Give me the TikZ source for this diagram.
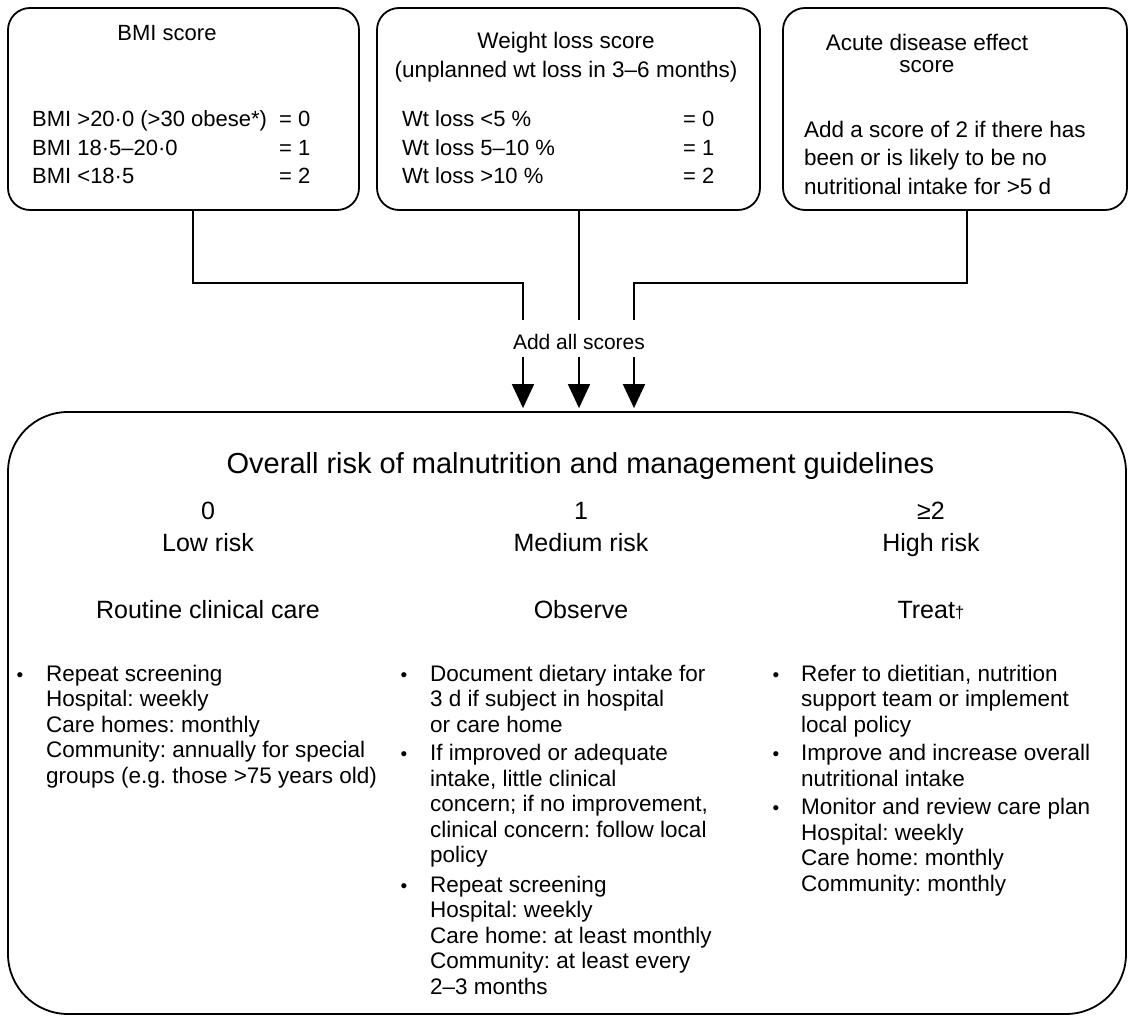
\documentclass[tikz,border=0pt]{standalone}
\usepackage{fontspec}
\setmainfont{Liberation Sans}
\usetikzlibrary{arrows.meta}
\newcommand{\myst}{\rule{0pt}{20pt}}
\begin{document}
\frenchspacing
\begin{tikzpicture}[x=1pt,y=-1pt,
  box/.style={draw, line width=1.8pt, rounded corners=22pt, inner sep=0pt},
  conn/.style={draw, line width=1.8pt},
  arr/.style={conn, -{Triangle[length=24pt,width=22pt]}, shorten >=3pt},
  topf/.style={font=\fontsize{22}{28.5}\selectfont},
  bodyf/.style={font=\fontsize{22.5}{25.5}\selectfont},
  headf/.style={font=\fontsize{25}{30}\selectfont},
  tl/.style={inner sep=0pt, anchor=north west, align=left},
  tc/.style={inner sep=0pt, anchor=base},
  bul/.style={inner sep=0pt, anchor=base, font=\fontsize{19}{19}\selectfont},
]
\useasboundingbox (0,0) rectangle (1128,1016);

% top boxes
\node[box, minimum width=351pt, minimum height=202pt] (bmi) at (183.5,109) {};
\node[box, minimum width=383pt, minimum height=202pt] (wt) at (568.5,109) {};
\node[box, minimum width=344pt, minimum height=202pt] (acute) at (955,109) {};

% BMI box text
\node[tc, topf] (bmih) at (167,41) {BMI score};
\node[tl, topf] (bmir) at (32,106.5) {\myst BMI >20·0 (>30 obese*)\\BMI 18·5–20·0\\BMI <18·5};
\node[tl, topf] (bmie) at (279,106.5) {\myst = 0\\= 1\\= 2};

% weight box text
\node[inner sep=0pt, anchor=north, align=center, font=\fontsize{22.5}{29}\selectfont] (wth) at (566,28) {\myst Weight loss score\\(unplanned wt loss in 3–6 months)};
\node[tl, topf] (wtr) at (402,106.5) {\myst Wt loss <5 \%\\Wt loss 5–10 \%\\Wt loss >10 \%};
\node[tl, topf] (wte) at (683,106.5) {\myst = 0\\= 1\\= 2};

% acute box text
\node[inner sep=0pt, anchor=north, align=center, font=\fontsize{22.5}{22}\selectfont] (ach) at (927,30) {\myst Acute disease effect\\score};
\node[tl, font=\fontsize{22.5}{28.5}\selectfont] (acb) at (804,117) {\myst Add a score of 2 if there has\\been or is likely to be no\\nutritional intake for >5 d};

% connectors
\coordinate (h1) at (523,283);
\coordinate (j1) at (523,320);
\coordinate (a1) at (523,357);
\coordinate (j2) at (579,320);
\coordinate (a2) at (579,357);
\coordinate (h3) at (634,283);
\coordinate (j3) at (634,320);
\coordinate (a3) at (634,357);

\draw[conn] ([xshift=9.5pt]bmi.south) |- (h1) -- (j1);
\draw[conn] ([xshift=10.5pt]wt.south) -- (j2);
\draw[conn] ([xshift=12pt]acute.south) |- (h3) -- (j3);

\node[tc, font=\fontsize{21}{24}\selectfont] (add) at (579,350) {Add all scores};

% main box
\node[box, rounded corners=60pt, minimum width=1118pt, minimum height=602pt] (risk) at (567,713) {};

\draw[arr] (a1) -- (a1 |- risk.north);
\draw[arr] (a2) -- (a2 |- risk.north);
\draw[arr] (a3) -- (a3 |- risk.north);

\node[tc, font=\fontsize{29}{34}\selectfont] (title) at (580.5,473) {Overall risk of malnutrition and management guidelines};

\node[tc, headf] (s0) at (208,519) {0};
\node[tc, headf] (r0) at (208,551) {Low risk};
\node[tc, headf] (m0) at (208,618) {Routine clinical care};

\node[tc, headf] (s1) at (581,519) {1};
\node[tc, headf] (r1) at (581,551) {Medium risk};
\node[tc, headf] (m1) at (581,618) {Observe};

\node[tc, headf] (s2) at (931,519) {≥2};
\node[tc, headf] (r2) at (931,551) {High risk};
\node[tc, headf] (m2) at (931,618) {Treat{\fontsize{17}{17}\selectfont †}};

% left column
\node[bul] (lb1) at (20,681) {•};
\node[tl, bodyf] (lt1) at (46,661) {\myst Repeat screening\\Hospital: weekly\\Care homes: monthly\\Community: annually for special\\groups (e.g. those >75 years old)};

% middle column
\node[bul] (mb1) at (404,681) {•};
\node[tl, bodyf] (mt1) at (430,661) {\myst Document dietary intake for\\3 d if subject in hospital\\or care home};
\node[bul] (mb2) at (404,760.5) {•};
\node[tl, bodyf] (mt2) at (430,740.5) {\myst If improved or adequate\\intake, little clinical\\concern; if no improvement,\\clinical concern: follow local\\policy};
\node[bul] (mb3) at (404,892) {•};
\node[tl, bodyf] (mt3) at (430,872) {\myst Repeat screening\\Hospital: weekly\\Care home: at least monthly\\Community: at least every\\2–3 months};

% right column
\node[bul] (rb1) at (776,681) {•};
\node[tl, bodyf] (rt1) at (801,661) {\myst Refer to dietitian, nutrition\\support team or implement\\local policy};
\node[bul] (rb2) at (776,760.5) {•};
\node[tl, bodyf] (rt2) at (801,740.5) {\myst Improve and increase overall\\nutritional intake};
\node[bul] (rb3) at (776,814.5) {•};
\node[tl, bodyf] (rt3) at (801,794.5) {\myst Monitor and review care plan\\Hospital: weekly\\Care home: monthly\\Community: monthly};
\end{tikzpicture}
\end{document}
